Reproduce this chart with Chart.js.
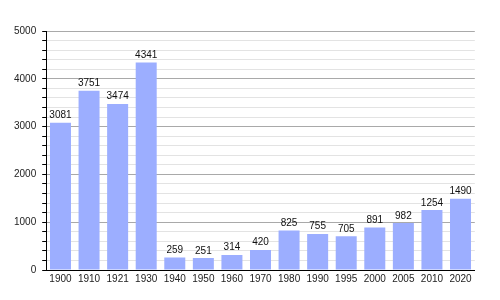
<!DOCTYPE html>
<html>
<head>
<meta charset="utf-8">
<script src="https://cdn.jsdelivr.net/npm/chart.js@4/dist/chart.umd.min.js"></script>
<style>
html,body{margin:0;padding:0;background:#fff;}
#wrap{width:500px;height:300px;position:relative;}
</style>
</head>
<body>
<div id="wrap"><canvas id="c" width="500" height="300"></canvas></div>
<script>
const years = ['1900','1910','1921','1930','1940','1950','1960','1970','1980','1990','1995','2000','2005','2010','2020'];
const population = [3081,3751,3474,4341,259,251,314,420,825,755,705,891,982,1254,1490];
const yMin = 0, yMax = 5000, yMajorStep = 1000, yMinorStep = 200;

const valueLabels = {
  id: 'valueLabels',
  afterDatasetsDraw(chart) {
    const ctx = chart.ctx;
    const meta = chart.getDatasetMeta(0);
    ctx.save();
    ctx.font = '10px "Liberation Sans", Arial, sans-serif';
    ctx.fillStyle = '#111';
    ctx.textAlign = 'center';
    ctx.textBaseline = 'alphabetic';
    meta.data.forEach((bar, i) => {
      ctx.fillText(String(population[i]), bar.x, bar.y - 4.5);
    });
    ctx.restore();
  }
};

Chart.defaults.font.family = '"Liberation Sans", Arial, sans-serif';
Chart.defaults.font.size = 10;
Chart.defaults.color = '#222';

new Chart(document.getElementById('c'), {
  type: 'bar',
  data: {
    labels: years,
    datasets: [{
      data: population,
      backgroundColor: '#9caeff',
      borderWidth: 0,
      barPercentage: 0.735,
      categoryPercentage: 1.0
    }]
  },
  options: {
    responsive: false,
    animation: false,
    events: [],
    plugins: { legend: { display: false }, tooltip: { enabled: false } },
    layout: { padding: { top: 31, right: 25.2, bottom: 0, left: 0 } },
    scales: {
      x: {
        grid: { display: true, drawOnChartArea: false, drawTicks: false, color: 'rgba(0,0,0,0)' },
        border: { display: true, color: '#000', width: 1 },
        ticks: { padding: 3, color: '#222', font: { size: 10 }, maxRotation: 0, autoSkip: false },
        afterFit(s) { s.height = 30; }
      },
      y: {
        min: yMin, max: yMax,
        grid: {
          color: (c) => (c.tick && c.tick.value % yMajorStep === 0) ? '#a9a9a9' : '#e3e3e3',
          tickColor: '#000',
          tickLength: 4,
          lineWidth: 1
        },
        border: { display: true, color: '#000', width: 1 },
        ticks: {
          stepSize: yMinorStep,
          padding: 6,
          color: '#222',
          font: { size: 10 },
          autoSkip: false,
          callback: (v) => (v % yMajorStep === 0) ? String(v) : ''
        },
        afterFit(s) { s.width = 46.2; }
      }
    }
  },
  plugins: [valueLabels]
});
</script>
</body>
</html>
